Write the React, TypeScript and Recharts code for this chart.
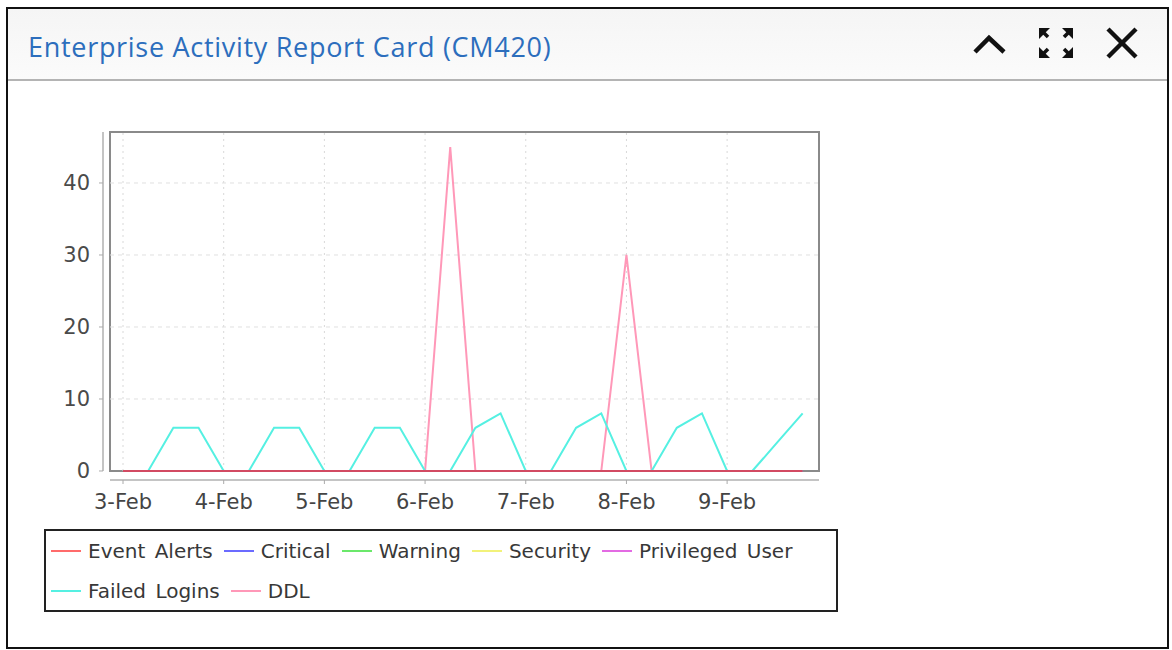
import React from "react";
import { LineChart, Line, XAxis, YAxis, ReferenceLine, ReferenceArea } from "recharts";

// hours since 3-Feb 00:00, one sample every 6 hours
const hours = [
  0, 6, 12, 18, 24, 30, 36, 42, 48, 54, 60, 66, 72, 78,
  84, 90, 96, 102, 108, 114, 120, 126, 132, 138, 144, 150, 156, 162,
];

const dayTicks = [0, 24, 48, 72, 96, 120, 144];
const dayLabels = ["3-Feb", "4-Feb", "5-Feb", "6-Feb", "7-Feb", "8-Feb", "9-Feb"];
const valueTicks = [0, 10, 20, 30, 40];

const eventAlerts = [0, 0, 0, 0, 0, 0, 0, 0, 0, 0, 0, 0, 0, 0, 0, 0, 0, 0, 0, 0, 0, 0, 0, 0, 0, 0, 0, 0];
const critical = [0, 0, 0, 0, 0, 0, 0, 0, 0, 0, 0, 0, 0, 0, 0, 0, 0, 0, 0, 0, 0, 0, 0, 0, 0, 0, 0, 0];
const warning = [0, 0, 0, 0, 0, 0, 0, 0, 0, 0, 0, 0, 0, 0, 0, 0, 0, 0, 0, 0, 0, 0, 0, 0, 0, 0, 0, 0];
const security = [0, 0, 0, 0, 0, 0, 0, 0, 0, 0, 0, 0, 0, 0, 0, 0, 0, 0, 0, 0, 0, 0, 0, 0, 0, 0, 0, 0];
const privilegedUser = [0, 0, 0, 0, 0, 0, 0, 0, 0, 0, 0, 0, 0, 0, 0, 0, 0, 0, 0, 0, 0, 0, 0, 0, 0, 0, 0, 0];
const failedLogins = [0, 0, 6, 6, 0, 0, 6, 6, 0, 0, 6, 6, 0, 0, 6, 8, 0, 0, 6, 8, 0, 0, 6, 8, 0, 0, 4, 8];
const ddl = [0, 0, 0, 0, 0, 0, 0, 0, 0, 0, 0, 0, 0, 45, 0, 0, 0, 0, 0, 0, 30, 0, 0, 0, 0, 0, 0, 0];

const series = [
  { key: "eventAlerts", name: "Event Alerts", color: "#ff6b6b", values: eventAlerts },
  { key: "critical", name: "Critical", color: "#6b6bff", values: critical },
  { key: "warning", name: "Warning", color: "#6be86b", values: warning },
  { key: "security", name: "Security", color: "#f2f27a", values: security },
  { key: "privilegedUser", name: "Privileged User", color: "#e36be3", values: privilegedUser },
  { key: "failedLogins", name: "Failed Logins", color: "#55f0e2", values: failedLogins },
  { key: "ddl", name: "DDL", color: "#ff98b8", values: ddl },
];

const data = hours.map((h, i) => {
  const row: Record<string, number> = { h };
  series.forEach((s) => (row[s.key] = s.values[i]));
  return row;
});

// plot box in data units; the axes sit a few px outside it
const X0 = -3.1;
const X1 = 165.9;
const Y1 = 47.08;
const XMIN = -4.77;
const YMIN = -1.25;

const font = "'DejaVu Sans', sans-serif";

function Legend() {
  return (
    <div
      style={{
        position: "absolute",
        left: 44,
        top: 529,
        width: 794,
        height: 83,
        boxSizing: "border-box",
        border: "2px solid #222",
        display: "flex",
        flexWrap: "wrap",
        alignContent: "flex-start",
        paddingLeft: 5,
        fontFamily: font,
        fontSize: 20,
        color: "#383838",
        lineHeight: "40px",
        background: "#fff",
      }}
    >
      {series.map((s) => (
        <div key={s.key} style={{ display: "flex", alignItems: "center", marginRight: 11 }}>
          <span style={{ display: "inline-block", width: 30, height: 2, background: s.color, marginRight: 7 }} />
          <span style={{ wordSpacing: 3 }}>{s.name}</span>
        </div>
      ))}
    </div>
  );
}

function Icons() {
  return (
    <svg width={200} height={60} style={{ position: "absolute", left: 960, top: 15 }}>
      <polyline points="15,37 29,23 44,37" fill="none" stroke="#111" strokeWidth={4.5} />
      <g fill="#111">
        <polygon points="79,13 90,13 79,24" />
        <polygon points="113,13 102,13 113,24" />
        <polygon points="79,43 90,43 79,32" />
        <polygon points="113,43 102,43 113,32" />
      </g>
      <g stroke="#111" strokeWidth={3.5}>
        <line x1={81} y1={15} x2={88} y2={22} />
        <line x1={111} y1={15} x2={104} y2={22} />
        <line x1={81} y1={41} x2={88} y2={34} />
        <line x1={111} y1={41} x2={104} y2={34} />
      </g>
      <g stroke="#111" strokeWidth={4.5}>
        <line x1={148} y1={14} x2={176} y2={42} />
        <line x1={176} y1={14} x2={148} y2={42} />
      </g>
    </svg>
  );
}

export default function App() {
  return (
    <div style={{ position: "absolute", left: 0, top: 0, width: 1172, height: 650, background: "#fff" }}>
      <div
        style={{
          position: "absolute",
          left: 6,
          top: 7,
          width: 1163,
          height: 642,
          boxSizing: "border-box",
          border: "2px solid #111",
        }}
      />
      <div
        style={{
          position: "absolute",
          left: 8,
          top: 9,
          width: 1159,
          height: 72,
          background: "linear-gradient(#f5f5f5, #fbfbfb)",
          borderBottom: "2px solid #b4b4b4",
          boxSizing: "border-box",
        }}
      />
      <div
        style={{
          position: "absolute",
          left: 28,
          top: 28,
          fontFamily: "'Open Sans', sans-serif",
          fontSize: 27,
          letterSpacing: 0.7,
          lineHeight: "38px",
          color: "#2c6ebd",
          whiteSpace: "nowrap",
        }}
      >
        Enterprise Activity Report Card (CM420)
      </div>
      <Icons />
      <div style={{ position: "absolute", left: 0, top: 0 }}>
        <LineChart width={840} height={530} data={data} margin={{ top: 132, right: 21, bottom: 10, left: 0 }}>
          <XAxis
            dataKey="h"
            type="number"
            domain={[XMIN, X1]}
            allowDataOverflow
            ticks={dayTicks}
            tickFormatter={(v) => dayLabels[dayTicks.indexOf(v)]}
            axisLine={false}
            tickLine={{ stroke: "#aaa" }}
            tickSize={4}
            tickMargin={10}
            height={40}
            tick={{ fill: "#444", fontSize: 21, fontFamily: font }}
          />
          <YAxis
            type="number"
            domain={[YMIN, Y1]}
            allowDataOverflow
            ticks={valueTicks}
            axisLine={false}
            tickLine={{ stroke: "#aaa" }}
            tickSize={4}
            tickMargin={9}
            width={103}
            tick={{ fill: "#4a4a4a", fontSize: 21, fontFamily: font }}
          />
          {dayTicks.map((t) => (
            <ReferenceLine
              key={"gx" + t}
              segment={[{ x: t, y: 0 }, { x: t, y: Y1 }]}
              stroke="#d8d8d8"
              strokeDasharray="2 4"
            />
          ))}
          {valueTicks.slice(1).map((t) => (
            <ReferenceLine
              key={"gy" + t}
              segment={[{ x: X0, y: t }, { x: X1, y: t }]}
              stroke="#e0e0e0"
              strokeDasharray="4 4"
            />
          ))}
          <ReferenceArea x1={X0} x2={X1} y1={0} y2={Y1} stroke="#8a8a8a" strokeWidth={2} fill="none" fillOpacity={0} />
          <ReferenceLine segment={[{ x: X0, y: YMIN }, { x: X1, y: YMIN }]} stroke="#b0b0b0" strokeWidth={1.5} />
          <ReferenceLine segment={[{ x: XMIN, y: 0 }, { x: XMIN, y: Y1 }]} stroke="#b0b0b0" strokeWidth={1.5} />
          {/* first series drawn last, so the red zero line ends up on top */}
          {[...series].reverse().map((s) => (
            <Line
              key={s.key}
              dataKey={s.key}
              name={s.name}
              type="linear"
              stroke={s.key === "eventAlerts" ? "#d24a62" : s.color}
              strokeWidth={2}
              dot={false}
              isAnimationActive={false}
            />
          ))}
        </LineChart>
      </div>
      <Legend />
    </div>
  );
}
